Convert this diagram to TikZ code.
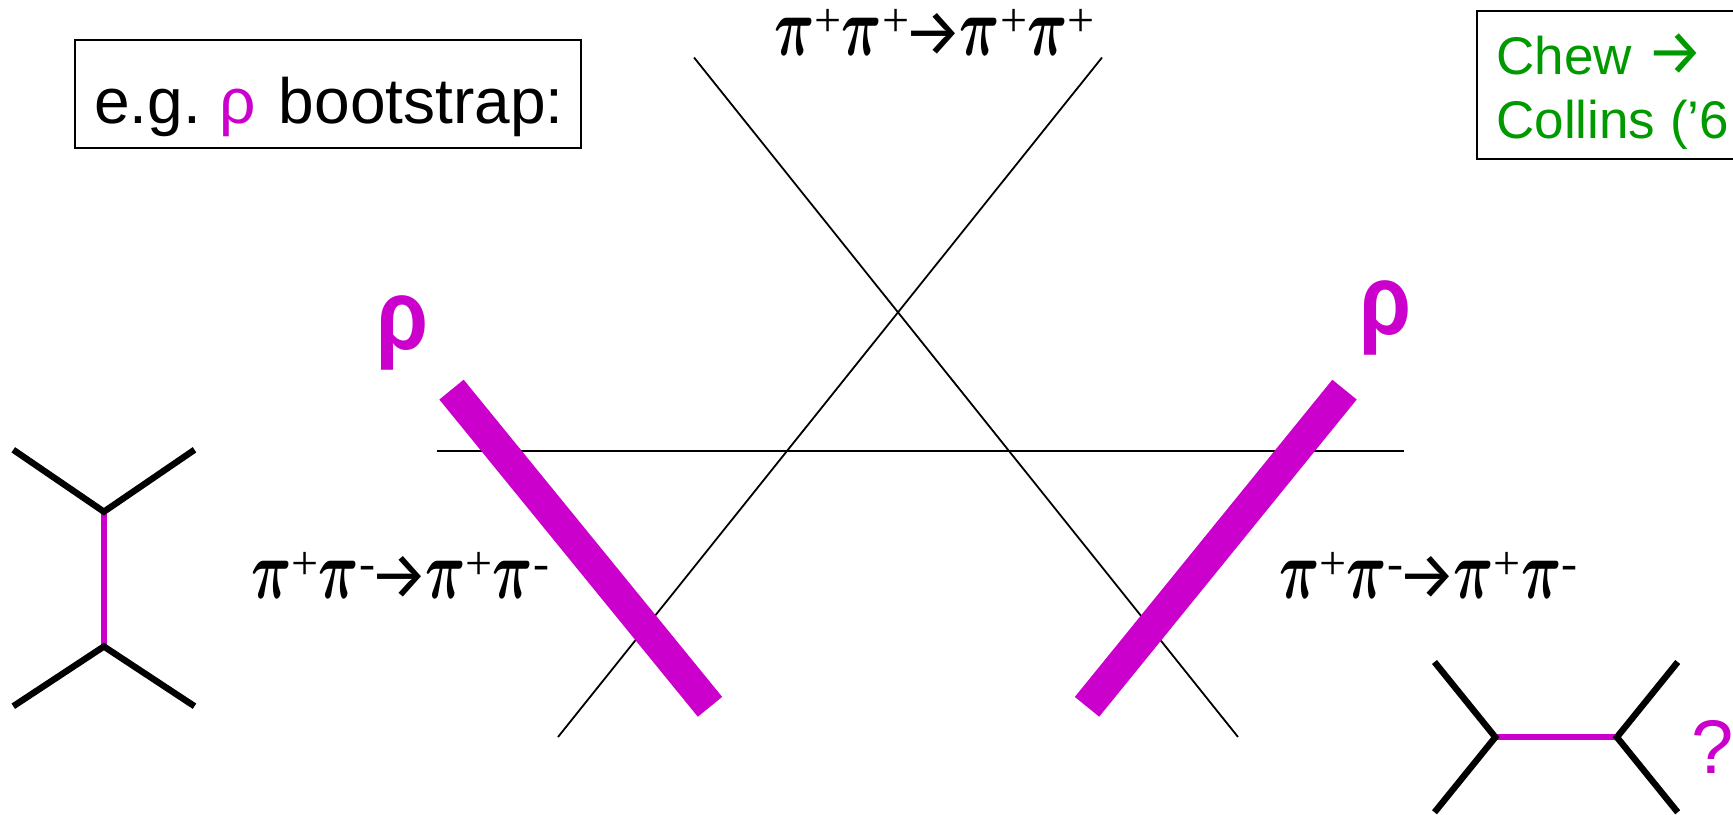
\documentclass[tikz,border=0pt]{standalone}
\usepackage{fontspec}
\setmainfont{Liberation Sans}
\newfontfamily\serf{Liberation Serif}
\newfontfamily\arrowf{Fira Sans}
\newfontfamily\rhobold[FakeStretch=0.84]{Liberation Sans Bold}
\definecolor{rhomag}{HTML}{CC00CC}
\definecolor{chewgreen}{HTML}{009900}
\newcommand{\fs}[1]{\fontsize{#1}{#1}\selectfont}
\newcommand{\PiG}{\scalebox{2.8}[4.2]{\fs{10}\boldmath$\pi$}}
\newcommand{\Pp}[1]{\PiG\kern0pt\raisebox{9.5pt}{\serf\fs{24}#1}}
\newcommand{\Ar}{\kern-2.9pt{\arrowf\fs{33}→}\kern-1.5pt}
\tikzset{
  thinline/.style={line width=0.9pt,black},
  bar/.style={line width=15.7pt,rhomag},
  leg/.style={line width=3.2pt,black,miter limit=10},
  prop/.style={line width=3.2pt,rhomag},
  lab/.style={inner sep=0pt,anchor=base west},
  box/.style={draw=black,line width=1pt,inner sep=0pt},
  bigrho/.style={inner sep=0pt,anchor=base west,rhomag,font=\fs{50}\rhobold}
}
\begin{document}
\begin{tikzpicture}[x=0.5pt,y=-0.5pt]
\useasboundingbox (0,0) rectangle (1733,814);
\clip (0,0) rectangle (1733,814);
% thin lines
\coordinate (a1) at (694,57.5); \coordinate (a2) at (1238,737);
\coordinate (b1) at (1102,57.5); \coordinate (b2) at (558,737);
\coordinate (h1) at (436.5,451); \coordinate (h2) at (1403.6,451);
\draw[thinline] (a1) -- (a2);
\draw[thinline] (b1) -- (b2);
\draw[thinline] (h1) -- (h2);
% thick bars
\coordinate (l1) at (451.5,389.6); \coordinate (l2) at (710,706.8);
\coordinate (r1) at (1344.5,389.6); \coordinate (r2) at (1087,706.8);
\draw[bar] (l1) -- (l2);
\draw[bar] (r1) -- (r2);
% boxes
\draw[box] (75,40) rectangle (581,148);
\node[lab] (eg) at (94,123) {\fs{32}e.g.\kern9.3pt\textcolor{rhomag}{ρ}\kern2.5pt\ bootstrap:};
\draw[box] (1477,11) rectangle (1760,159);
\node[lab,text=chewgreen] (chew) at (1496,74) {\fs{26.5}Chew {\arrowf\fs{32}→}};
\node[lab,text=chewgreen] (coll) at (1496,138) {\fs{26.5}Collins (’6};
% rho labels
\node[bigrho] (rl) at (376,349) {ρ};
\node[bigrho] (rr) at (1359,334) {ρ};
% pi labels
\node[lab] (top) at (774,55) {\Pp{+}\Pp{+}\Ar\Pp{+}\Pp{+}};
\node[lab] (left) at (251,598) {\Pp{+}\Pp{-}\Ar\Pp{+}\Pp{-}};
\node[lab] (right) at (1279,598) {\Pp{+}\Pp{-}\Ar\Pp{+}\Pp{-}};
% left Feynman
\coordinate (v1) at (103.9,511.7); \coordinate (v2) at (103.9,646.5);
\coordinate (e1) at (13.3,449.8); \coordinate (e2) at (194.5,449.8);
\coordinate (e3) at (13.3,706.2); \coordinate (e4) at (194.5,706.2);
\draw[prop] (v1) -- (v2);
\draw[leg] (e1) -- (v1) -- (e2);
\draw[leg] (e3) -- (v2) -- (e4);
% right Feynman
\coordinate (w1) at (1495.3,737.2); \coordinate (w2) at (1616.9,737.2);
\coordinate (f1) at (1434.5,662); \coordinate (f2) at (1677.7,662);
\coordinate (f3) at (1434.5,812.3); \coordinate (f4) at (1677.7,812.3);
\draw[prop] (w1) -- (w2);
\draw[leg] (f1) -- (w1) -- (f3);
\draw[leg] (f2) -- (w2) -- (f4);
\node[lab,text=rhomag] (q) at (1691,773) {\fs{38}?};
\end{tikzpicture}
\end{document}
